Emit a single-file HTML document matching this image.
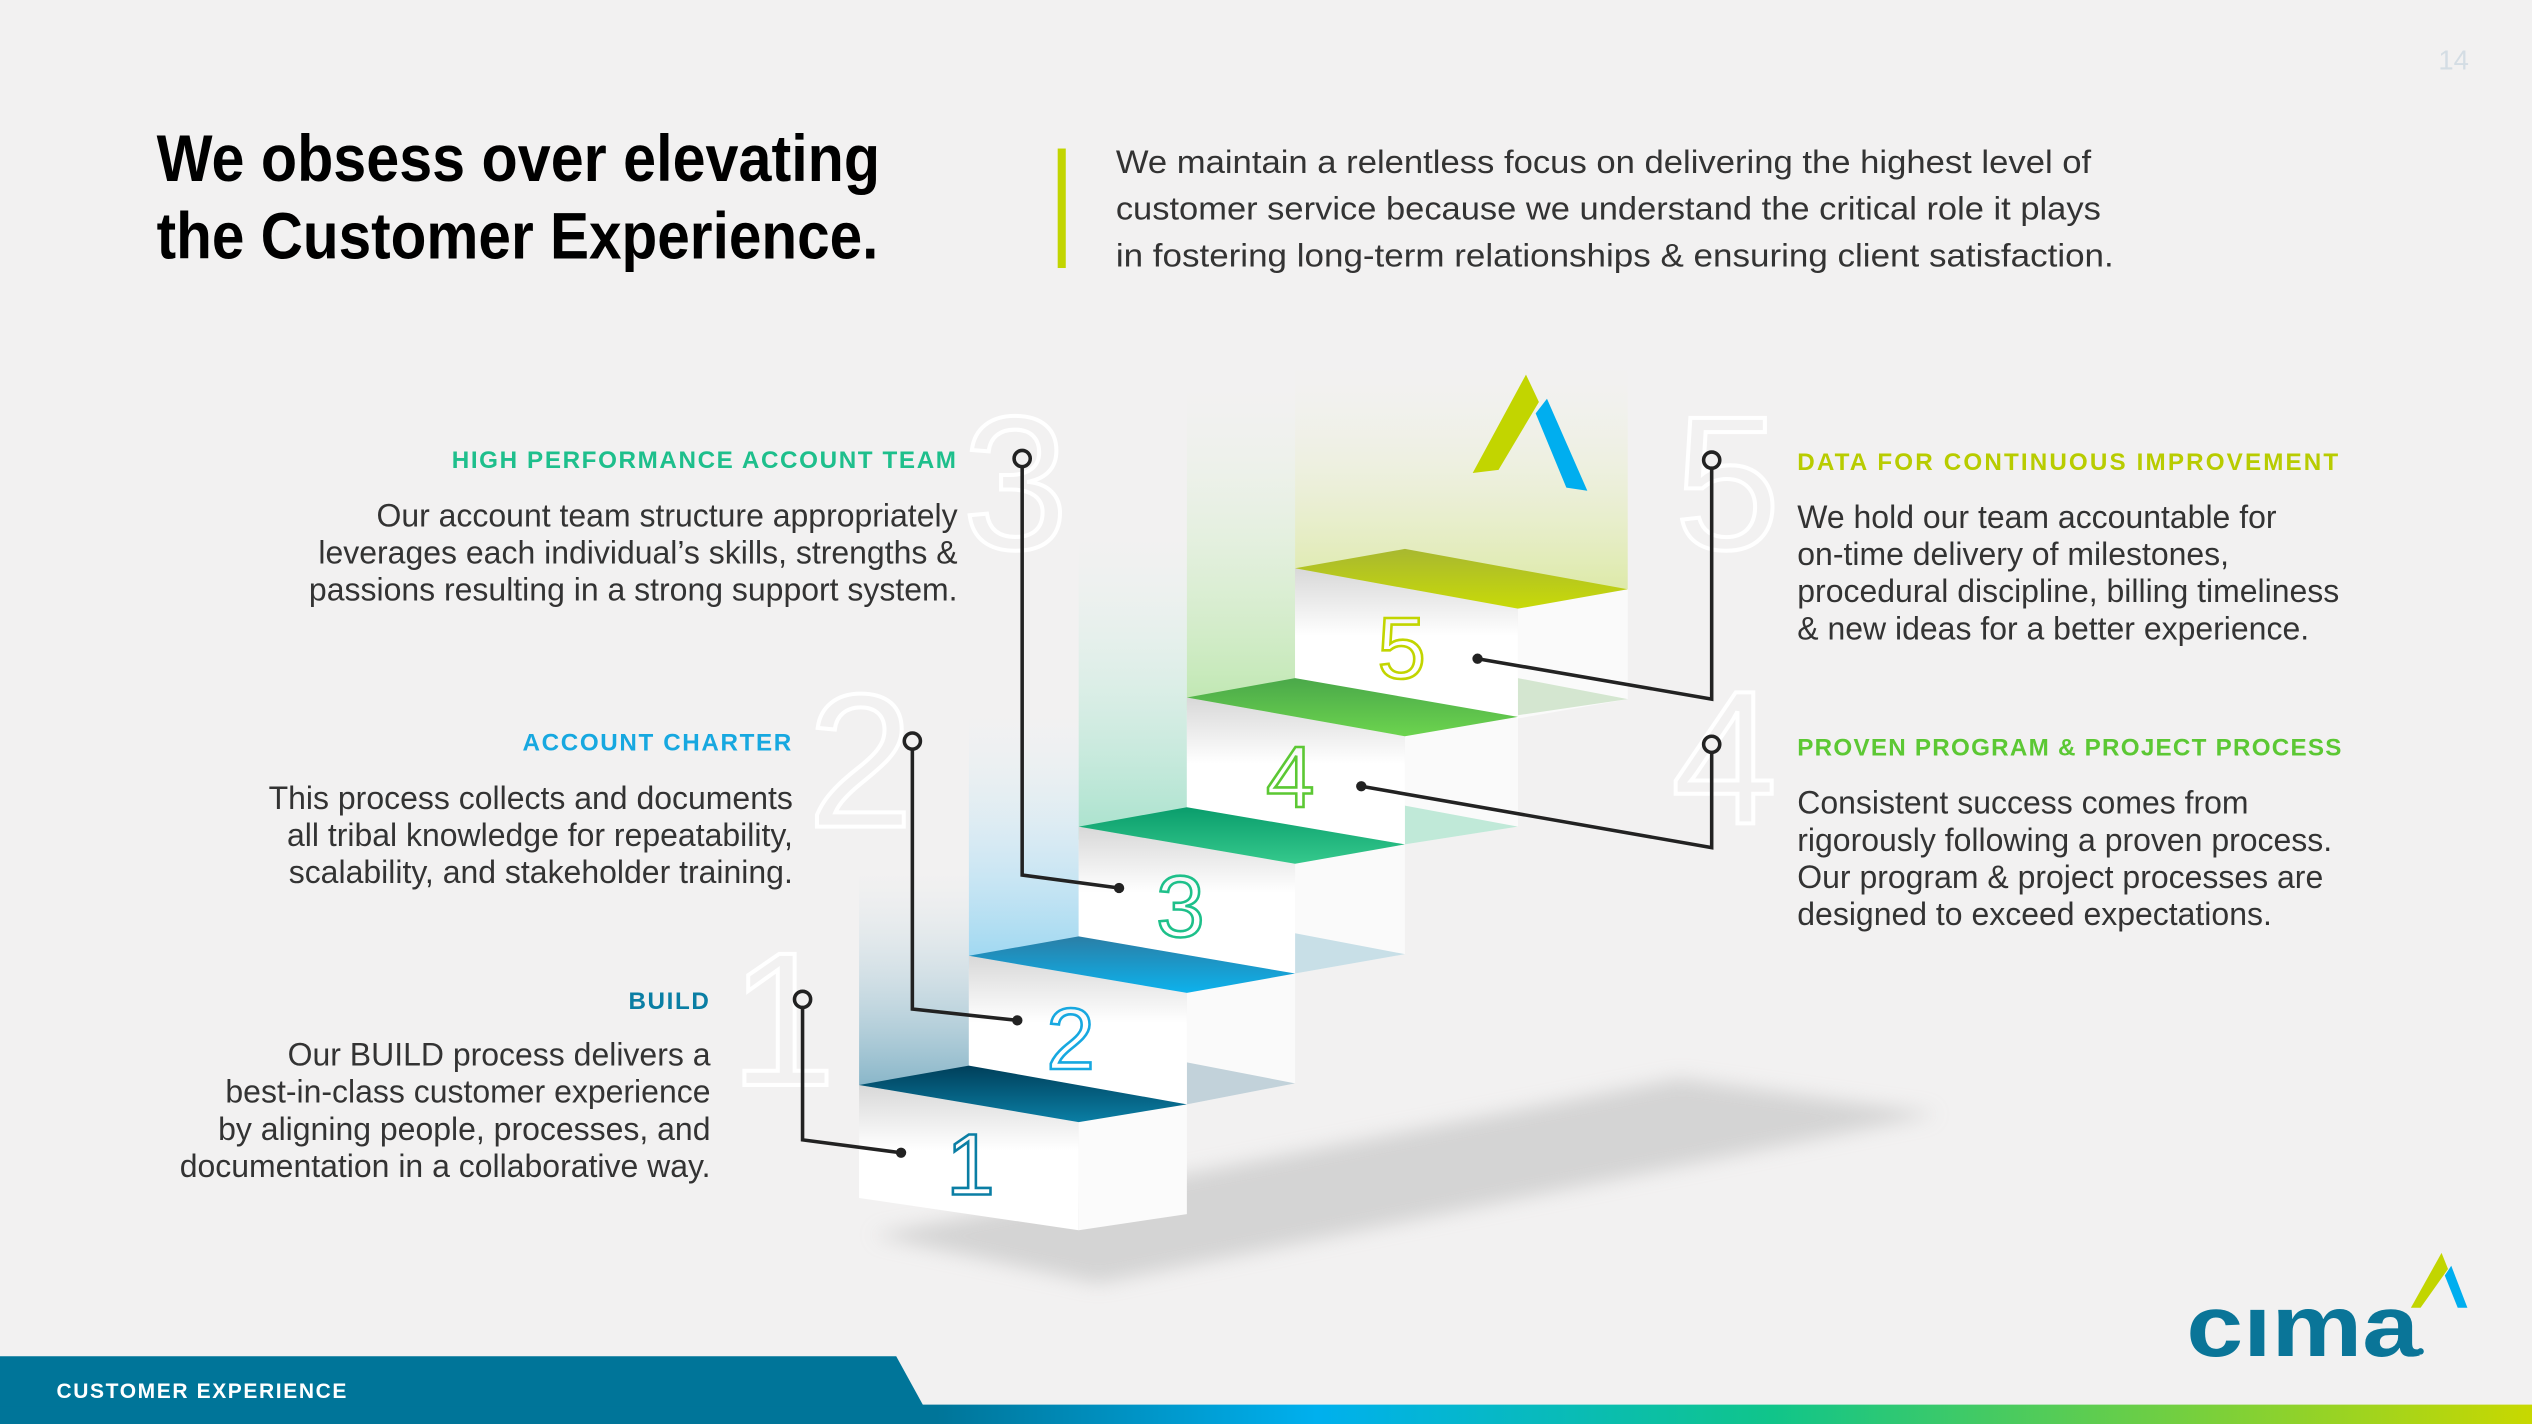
<!DOCTYPE html>
<html><head><meta charset="utf-8">
<style>
html,body{margin:0;padding:0;background:#f2f1f1;}
svg{display:block;}
text{font-family:"Liberation Sans",sans-serif;}
</style></head>
<body>
<svg width="2532" height="1424" viewBox="0 0 1568 882" preserveAspectRatio="none" xmlns="http://www.w3.org/2000/svg">
<defs>
  <filter id="blur" x="-20%" y="-50%" width="140%" height="200%"><feGaussianBlur stdDeviation="6"/></filter>
  <linearGradient id="w1" x1="0" y1="1" x2="0" y2="0"><stop offset="0" stop-color="#6aa5bd" stop-opacity=".8"/><stop offset="1" stop-color="#cfe0e8" stop-opacity="0"/></linearGradient>
  <linearGradient id="w2" x1="0" y1="1" x2="0" y2="0"><stop offset="0" stop-color="#8fd3f2" stop-opacity=".9"/><stop offset="1" stop-color="#e0f0f8" stop-opacity="0"/></linearGradient>
  <linearGradient id="w3" x1="0" y1="1" x2="0" y2="0"><stop offset="0" stop-color="#9fe0c8" stop-opacity=".9"/><stop offset="1" stop-color="#e0f4ec" stop-opacity="0"/></linearGradient>
  <linearGradient id="w4" x1="0" y1="1" x2="0" y2="0"><stop offset="0" stop-color="#b8e6a8" stop-opacity=".9"/><stop offset="1" stop-color="#e6f4e0" stop-opacity="0"/></linearGradient>
  <linearGradient id="w5" x1="0" y1="1" x2="0" y2="0"><stop offset="0" stop-color="#dbe9a0" stop-opacity=".9"/><stop offset="1" stop-color="#f0f2e6" stop-opacity="0"/></linearGradient>
  <linearGradient id="front" x1="0" y1="0" x2="0" y2="1"><stop offset="0" stop-color="#d8d8d8"/><stop offset=".45" stop-color="#ffffff"/><stop offset="1" stop-color="#ffffff"/></linearGradient>
  <linearGradient id="t1" x1="0" y1="0" x2="0" y2="1"><stop offset="0" stop-color="#003f5a"/><stop offset="1" stop-color="#0a7ea4"/></linearGradient>
  <linearGradient id="t2" x1="0" y1="0" x2="0" y2="1"><stop offset="0" stop-color="#2a7ea6"/><stop offset="1" stop-color="#0db2ec"/></linearGradient>
  <linearGradient id="t3" x1="0" y1="0" x2="0" y2="1"><stop offset="0" stop-color="#0a9d6c"/><stop offset="1" stop-color="#35c98c"/></linearGradient>
  <linearGradient id="t4" x1="0" y1="0" x2="0" y2="1"><stop offset="0" stop-color="#4aa84a"/><stop offset="1" stop-color="#6cd44e"/></linearGradient>
  <linearGradient id="t5" x1="0" y1="0" x2="0" y2="1"><stop offset="0" stop-color="#a8b830"/><stop offset="1" stop-color="#c8da08"/></linearGradient>
  <linearGradient id="bar" x1="0" y1="0" x2="1" y2="0"><stop offset="0" stop-color="#007599"/><stop offset=".37" stop-color="#007599"/><stop offset=".52" stop-color="#00b0ee"/><stop offset=".7" stop-color="#10c58a"/><stop offset="1" stop-color="#c8d800"/></linearGradient>
</defs>

<text x="1510" y="43" font-size="17" fill="#d4dde4">14</text>

<text x="97" y="112" font-size="41" font-weight="bold" fill="#000" textLength="448" lengthAdjust="spacingAndGlyphs">We obsess over elevating</text>
<text x="97" y="160" font-size="41" font-weight="bold" fill="#000" textLength="447" lengthAdjust="spacingAndGlyphs">the Customer Experience.</text>

<rect x="655" y="92" width="5" height="74" fill="#c2d500"/>
<g font-size="20" fill="#333">
<text x="691" y="107" textLength="604" lengthAdjust="spacingAndGlyphs">We maintain a relentless focus on delivering the highest level of</text>
<text x="691" y="136" textLength="610" lengthAdjust="spacingAndGlyphs">customer service because we understand the critical role it plays</text>
<text x="691" y="165" textLength="618" lengthAdjust="spacingAndGlyphs">in fostering long-term relationships &amp; ensuring client satisfaction.</text>
</g>

<g font-size="118" fill="none" stroke="#ffffff" stroke-width="2.5">
<text x="596" y="340">3</text>
<text x="500" y="512">2</text>
<text x="452" y="672">1</text>
<text x="1037" y="340">5</text>
<text x="1035" y="510">4</text>
</g>

<polygon points="540,765 1040,668 1200,690 680,795" fill="#c8c8c8" opacity=".7" filter="url(#blur)"/>

<rect x="532" y="540" width="68" height="135" fill="url(#w1)"/>
<rect x="600" y="440" width="68" height="160" fill="url(#w2)"/>
<rect x="668" y="330" width="67" height="190" fill="url(#w3)"/>
<rect x="735" y="240" width="67" height="200" fill="url(#w4)"/>
<rect x="802" y="225" width="206" height="140" fill="url(#w5)"/>

<!-- right side faces -->
<polygon points="940,377 1008,365 1008,433 940,445" fill="#fafafa"/>
<polygon points="940,420 1008,433 940,443" fill="#d4e6d0"/>
<polygon points="870,456 940,444 940,512 870,523" fill="#fafafa"/>
<polygon points="870,499 940,512 870,523" fill="#c0e9d8"/>
<polygon points="802,535 870,523 870,591 802,603" fill="#fafafa"/>
<polygon points="802,578 870,591 802,603" fill="#c8dfe7"/>
<polygon points="735,615 802,603 802,671 735,684" fill="#fafafa"/>
<polygon points="735,658 802,671 735,684" fill="#c2d2da"/>

<polygon points="802,352 940,377 940,445 802,420" fill="url(#front)"/>
<polygon points="802,352 870,340 1008,365 940,377" fill="url(#t5)"/>
<polygon points="735,432 870,456 870,523 735,500" fill="url(#front)"/>
<polygon points="735,432 802,420 940,444 870,456" fill="url(#t4)"/>
<polygon points="668,512 802,535 802,603 668,580" fill="url(#front)"/>
<polygon points="668,512 735,500 870,523 802,535" fill="url(#t3)"/>
<polygon points="600,592 735,615 735,684 600,660" fill="url(#front)"/>
<polygon points="600,592 668,580 802,603 735,615" fill="url(#t2)"/>
<polygon points="532,672 668,695 668,762 532,742" fill="url(#front)"/>
<polygon points="668,695 735,684 735,752 668,762" fill="#fbfbfb"/>
<polygon points="532,672 600,660 735,684 668,695" fill="url(#t1)"/>

<g font-size="54" fill="none" stroke-width="1.6">
<text x="586" y="740" stroke="#0a7ea4">1</text>
<text x="648" y="662" stroke="#17a8e0">2</text>
<text x="716" y="580" stroke="#1ec08a">3</text>
<text x="784" y="500" stroke="#5cc834">4</text>
<text x="853" y="420" stroke="#c2d500">5</text>
</g>

<polygon points="912,293 945,232 953,249 928,291" fill="#c2d500"/>
<polygon points="951,256 958,247 983,304 970,302" fill="#00aeef"/>

<g fill="none" stroke="#222" stroke-width="2.2">
<polyline points="633,289 633,542 693,550"/>
<polyline points="565,464 565,625 630,632"/>
<polyline points="497,624 497,706 558,714"/>
<polyline points="1060,290 1060,433 915,408"/>
<polyline points="1060,466 1060,525 843,487"/>
</g>
<g fill="#f2f1f1" stroke="#222" stroke-width="2.2">
<circle cx="633" cy="284" r="5"/><circle cx="565" cy="459" r="5"/><circle cx="497" cy="619" r="5"/>
<circle cx="1060" cy="285" r="5"/><circle cx="1060" cy="461" r="5"/>
</g>
<g fill="#222">
<circle cx="693" cy="550" r="3.2"/><circle cx="630" cy="632" r="3.2"/><circle cx="558" cy="714" r="3.2"/>
<circle cx="915" cy="408" r="3.2"/><circle cx="843" cy="487" r="3.2"/>
</g>

<g text-anchor="end" font-size="15" font-weight="bold" letter-spacing="1">
<text x="593" y="290" fill="#1ebf8c">HIGH PERFORMANCE ACCOUNT TEAM</text>
<text x="491" y="465" fill="#17a8e0">ACCOUNT CHARTER</text>
<text x="440" y="625" fill="#0a7ea4">BUILD</text>
</g>
<g text-anchor="end" font-size="19.8" fill="#333">
<text x="593" y="326">Our account team structure appropriately</text>
<text x="593" y="349">leverages each individual’s skills, strengths &amp;</text>
<text x="593" y="372">passions resulting in a strong support system.</text>
<text x="491" y="501">This process collects and documents</text>
<text x="491" y="524">all tribal knowledge for repeatability,</text>
<text x="491" y="547">scalability, and stakeholder training.</text>
<text x="440" y="660">Our BUILD process delivers a</text>
<text x="440" y="683">best-in-class customer experience</text>
<text x="440" y="706">by aligning people, processes, and</text>
<text x="440" y="729">documentation in a collaborative way.</text>
</g>

<g font-size="15" font-weight="bold" letter-spacing="1">
<text x="1113" y="291" fill="#b8cc00" textLength="336">DATA FOR CONTINUOUS IMPROVEMENT</text>
<text x="1113" y="468" fill="#5cc834" textLength="338">PROVEN PROGRAM &amp; PROJECT PROCESS</text>
</g>
<g font-size="19.8" fill="#333">
<text x="1113" y="327">We hold our team accountable for</text>
<text x="1113" y="350">on-time delivery of milestones,</text>
<text x="1113" y="373">procedural discipline, billing timeliness</text>
<text x="1113" y="396">&amp; new ideas for a better experience.</text>
<text x="1113" y="504">Consistent success comes from</text>
<text x="1113" y="527">rigorously following a proven process.</text>
<text x="1113" y="550">Our program &amp; project processes are</text>
<text x="1113" y="573">designed to exceed expectations.</text>
</g>

<rect x="0" y="870" width="1568" height="12" fill="url(#bar)"/>
<polygon points="0,840 555,840 572,871 0,871" fill="#007599"/>
<text x="35" y="866" font-size="13" font-weight="bold" fill="#fff" letter-spacing="1">CUSTOMER EXPERIENCE</text>

<text x="1354" y="840" font-size="54" font-weight="bold" fill="#0a7598" textLength="144" lengthAdjust="spacingAndGlyphs">cıma</text>
<circle cx="1499" cy="837" r="2" fill="#0a7598"/>
<polygon points="1493,810 1512,776 1516,786 1499,810" fill="#c2d500"/>
<polygon points="1514,790 1518,784 1528,810 1522,810" fill="#00aeef"/>
</svg>
</body></html>
